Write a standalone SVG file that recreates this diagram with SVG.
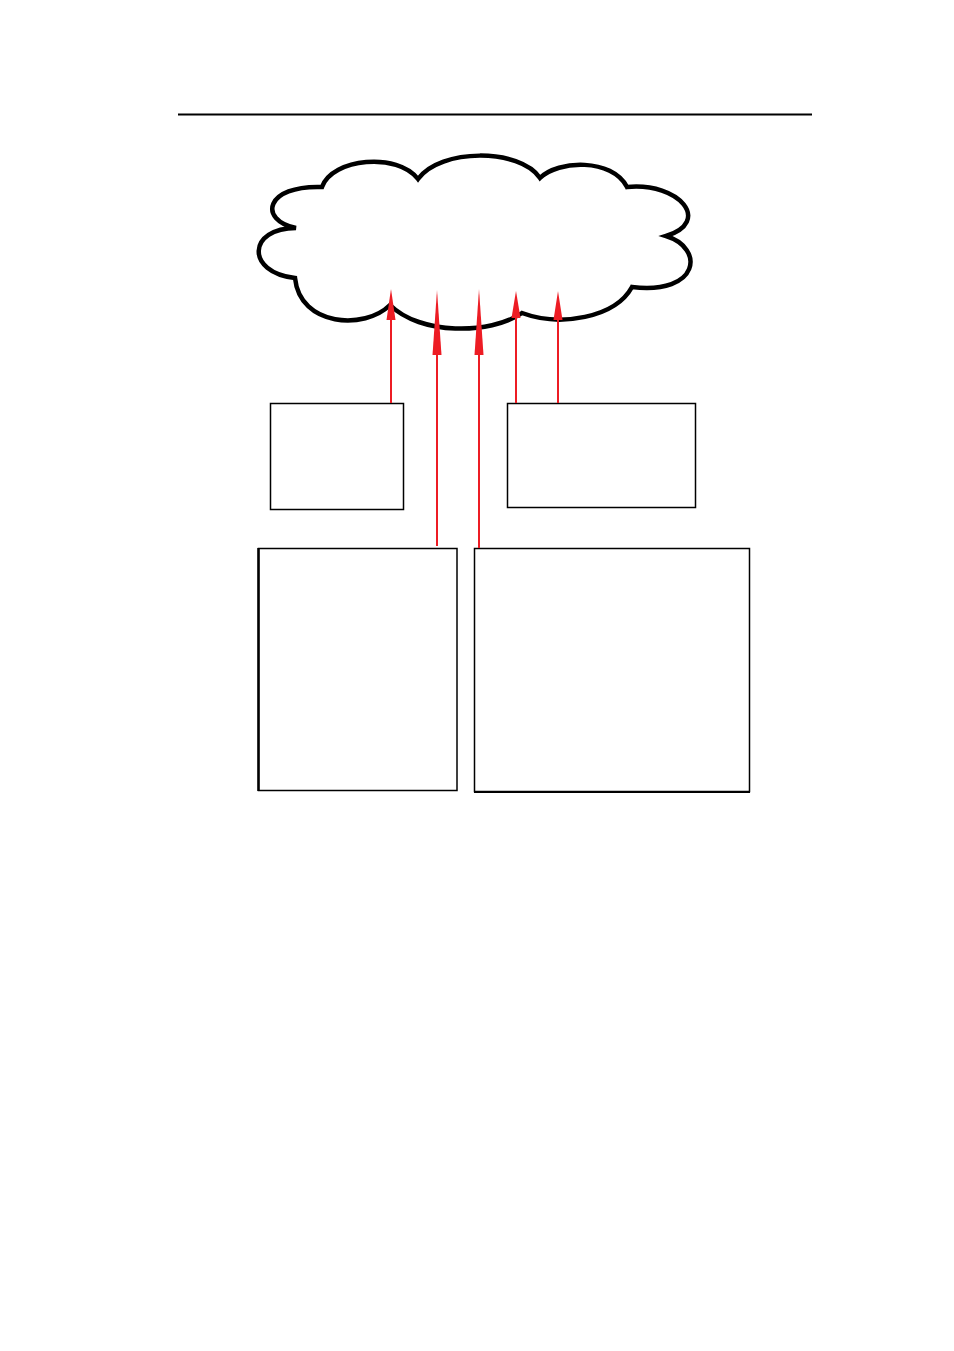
<svg xmlns="http://www.w3.org/2000/svg" width="954" height="1351" viewBox="0 0 954 1351">
<style>
.box{fill:#fff;stroke:#000;stroke-width:1.5}
.cloud{fill:#fff;stroke:#000;stroke-width:4.5;stroke-linejoin:miter}
.conn{stroke:#ED1C24;stroke-width:2;fill:none}
.head{fill:#ED1C24;stroke:none}
</style>
<rect width="954" height="1351" fill="#fff"/>
<line x1="178" y1="114.5" x2="812" y2="114.5" stroke="#000" stroke-width="2"/>
<g id="cloud">
<path class="cloud" d="M322,187 C332,158 398,152 418,179 C440,148 520,148 540,178 C558,160 612,158 627,187 C680,182 712,222 666,236 C705,248 700,295 632,287 C615,318 560,327 522,313 C490,335 420,335 390,305 C365,330 300,327 295,278 C245,272 248,228 296,228 C258,220 265,185 322,187 Z"/>
</g>
<g id="box1"><rect class="box" x="270.5" y="403.5" width="133" height="106"/></g>
<g id="box2"><rect class="box" x="507.5" y="403.5" width="188" height="104"/></g>
<g id="box3"><rect class="box" x="258.5" y="548.5" width="198.5" height="242"/><line x1="258.5" y1="548" x2="258.5" y2="791" stroke="#000" stroke-width="2.5"/></g>
<g id="box4"><rect class="box" x="474.5" y="548.5" width="275" height="243"/><line x1="474" y1="792" x2="750" y2="792" stroke="#000" stroke-width="2"/></g>
<g id="connectors">
<line class="conn" x1="391" y1="403" x2="391" y2="318"/>
<polygon class="head" points="391,289 395.5,320 386.5,320"/>
<line class="conn" x1="437" y1="546" x2="437" y2="350"/>
<polygon class="head" points="437,290 441.5,355 432.5,355"/>
<line class="conn" x1="479" y1="548" x2="479" y2="350"/>
<polygon class="head" points="479,289 483.5,355 474.5,355"/>
<line class="conn" x1="516" y1="403" x2="516" y2="316"/>
<polygon class="head" points="516,291 520.5,318 511.5,318"/>
<line class="conn" x1="558" y1="403" x2="558" y2="318"/>
<polygon class="head" points="558,291 562.5,320 553.5,320"/>
</g>
</svg>
